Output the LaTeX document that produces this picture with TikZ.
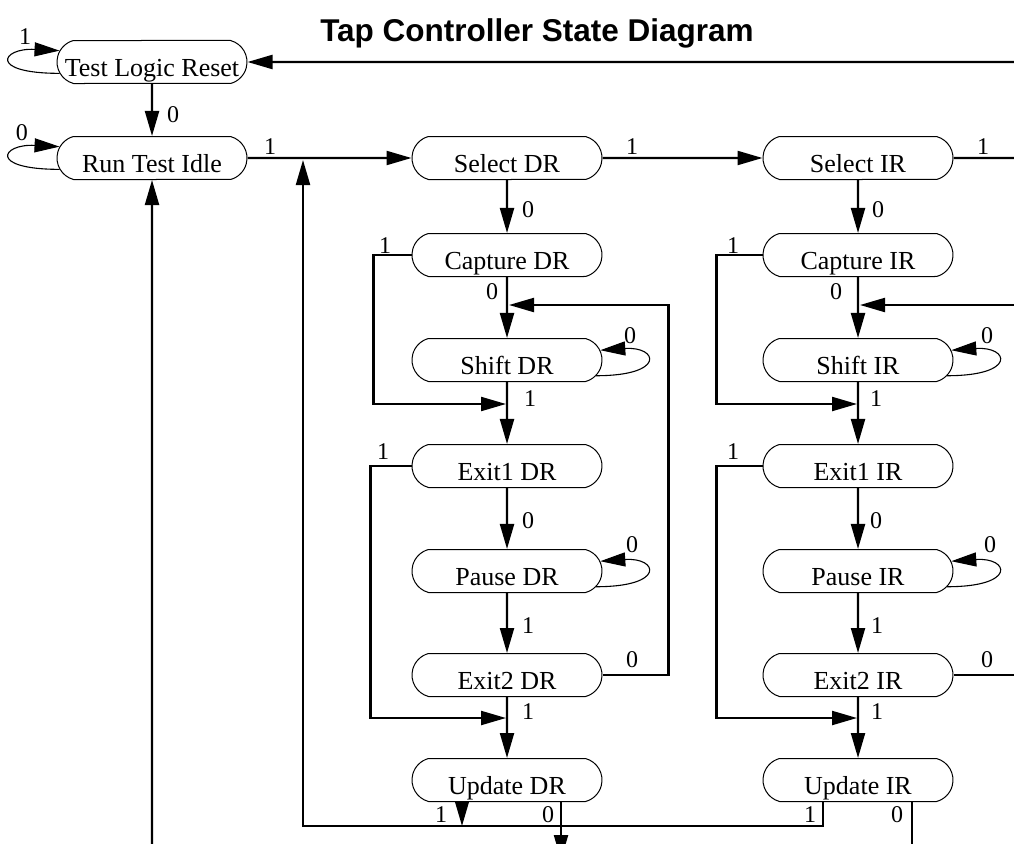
\documentclass[tikz,border=0pt]{standalone}
\usepackage{fontspec}
\setmainfont{Liberation Serif}
\newfontfamily\titlefont{Liberation Sans}
\usetikzlibrary{arrows.meta,shapes.misc}

\begin{document}
\begin{tikzpicture}
[x=1pt,y=-1pt,>={Triangle[length=25pt,width=14pt]},
 state/.style={draw,rounded rectangle,rounded rectangle arc length=150,line width=1pt,
   minimum width=190pt,minimum height=43pt,inner sep=0pt,text height=28pt,text depth=0pt,
   font=\fontsize{26}{30}\selectfont},
 lbl/.style={inner sep=0pt,font=\fontsize{24}{28}\selectfont},
 conn/.style={line width=2.2pt},
 selfloop/.style={line width=1.1pt}]
\fill[white] (0,0) rectangle (1014,843);
\clip (0,0) rectangle (1014,843);
\node[font=\titlefont\bfseries\fontsize{31.5}{36}\selectfont] (title) at (537,33) {Tap Controller State Diagram};
% states
\node[state] (tlr) at (152,62) {Test Logic Reset};
\node[state] (rti) at (152,158) {Run Test Idle};
\node[state] (seldr) at (507,158) {Select DR};
\node[state] (capdr) at (507,255) {Capture DR};
\node[state] (shdr) at (507,360) {Shift DR};
\node[state] (exadr) at (507,466) {Exit1 DR};
\node[state] (padr) at (507,571) {Pause DR};
\node[state] (exbdr) at (507,675) {Exit2 DR};
\node[state] (updr) at (507,780) {Update DR};
\node[state] (selir) at (858,158) {Select IR};
\node[state] (capir) at (858,255) {Capture IR};
\node[state] (shir) at (858,360) {Shift IR};
\node[state] (exair) at (858,466) {Exit1 IR};
\node[state] (pair) at (858,571) {Pause IR};
\node[state] (exbir) at (858,675) {Exit2 IR};
\node[state] (upir) at (858,780) {Update IR};
% free ends
\coordinate (topr) at (1020,62);
\coordinate (selr) at (1020,158);
\coordinate (rtib) at (152,860);
\coordinate (jbl) at (303,826);
\coordinate (jtl) at (303,160);
\coordinate (jdra) at (506,404);
\coordinate (jdrb) at (506,718);
\coordinate (jdrc) at (509,305);
\coordinate (jira) at (857,404);
\coordinate (jirb) at (857,718);
\coordinate (jirc) at (860,305);
\coordinate (rirc) at (1020,305);
\foreach \from/\to in {tlr/rti,rti/seldr,seldr/selir,seldr/capdr,capdr/shdr,shdr/exadr,exadr/padr,padr/exbdr,exbdr/updr,selir/capir,capir/shir,shir/exair,exair/pair,pair/exbir,exbir/upir,topr/tlr,rtib/rti,rirc/jirc}
\draw[conn,->] (\from) -- (\to);
\draw[conn] (selir) -- (selr);
\draw[conn,->] (capdr.west) -- ++(-38,0) |- (jdra);
\draw[conn,->] (exadr.west) -- ++(-41,0) |- (jdrb);
\draw[conn,->] (exbdr.east) -- ++(66,0) |- (jdrc);
\draw[conn,->] (capir.west) -- ++(-46,0) |- (jira);
\draw[conn,->] (exair.west) -- ++(-46,0) |- (jirb);
\draw[conn] (exbir.east) -- ++(70,0);
\draw[conn,->] ([xshift=-45pt]updr.south) -- ++(0,24);
\draw[conn,->] ([xshift=54pt]updr.south) -- ++(0,58);
\draw[conn,->] ([xshift=-35pt]upir.south) |- (jbl) -- (jtl);
\draw[conn] ([xshift=54pt]upir.south) -- ++(0,50);
% self loops
\foreach \n in {shdr,padr,shir,pair}
\draw[selfloop,->] (\n.-10) .. controls +(70,0) and +(58,-4) .. (\n.6);
\foreach \n in {tlr,rti}
\draw[selfloop,->] (\n.187) .. controls +(-72,0) and +(-58,-3) .. (\n.173);
% labels
\foreach \x/\y/\t [count=\i] in {25/37/1,22/133/0,173/115/0,270/147/1,632/147/1,983/147/1,
  528/210/0,878/210/0,385/246/1,733/246/1,492/292/0,836/292/0,630/336/0,987/336/0,
  530/399/1,876/399/1,383/452/1,733/452/1,528/521/0,876/521/0,632/545/0,990/545/0,
  528/626/1,877/626/1,632/660/0,987/660/0,528/712/1,877/712/1,
  441/815/1,548/815/0,810/815/1,897/815/0}
\node[lbl] (lb\i) at (\x,\y) {\t};
\end{tikzpicture}
\end{document}
